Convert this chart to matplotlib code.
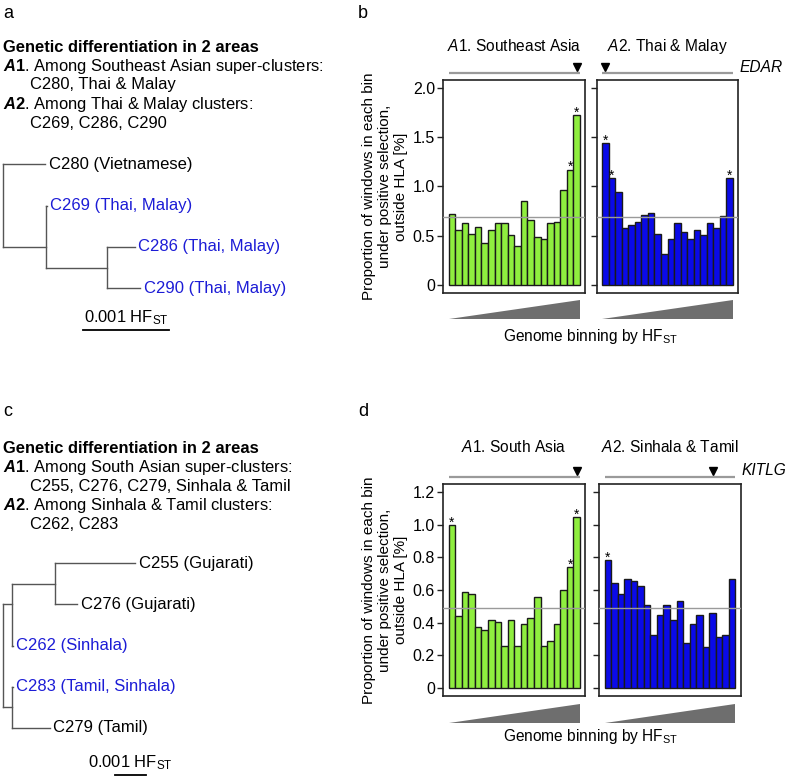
import numpy as np
import matplotlib
matplotlib.use("Agg")
import matplotlib.pyplot as plt
import matplotlib.transforms as mtransforms
from matplotlib.patches import Polygon

plt.rcParams['font.family'] = ['Liberation Sans', 'DejaVu Sans']
plt.rcParams['mathtext.fontset'] = 'custom'
plt.rcParams['mathtext.rm'] = 'Liberation Sans'
plt.rcParams['mathtext.it'] = 'Liberation Sans:italic'
plt.rcParams['mathtext.bf'] = 'Liberation Sans:bold'
plt.rcParams['mathtext.bfit'] = 'Liberation Sans:bold:italic'

# ---- data ----
# panel b: proportion of windows under positive selection per HF_ST bin
se_asia = [0.72, 0.56, 0.63, 0.52, 0.59, 0.42, 0.56, 0.63, 0.63, 0.505,
           0.39, 0.85, 0.66, 0.49, 0.47, 0.63, 0.64, 0.96, 1.17, 1.72]
thai_malay = [1.44, 1.08, 0.94, 0.58, 0.61, 0.64, 0.71, 0.73, 0.52, 0.315,
              0.47, 0.63, 0.54, 0.47, 0.56, 0.505, 0.63, 0.58, 0.70, 1.08]
se_asia_stars = [18, 19]
thai_malay_stars = [0, 1, 19]
base_b = 0.69
edar_bins = [19, 0]

# panel d
south_asia = [0.996, 0.444, 0.589, 0.575, 0.376, 0.354, 0.419, 0.407, 0.26, 0.419,
              0.26, 0.39, 0.43, 0.56, 0.26, 0.286, 0.39, 0.603, 0.744, 1.047]
sinhala_tamil = [0.785, 0.642, 0.575, 0.667, 0.654, 0.628, 0.509, 0.325, 0.446, 0.509,
                 0.419, 0.536, 0.274, 0.39, 0.446, 0.249, 0.458, 0.313, 0.325, 0.667]
south_asia_stars = [0, 18, 19]
sinhala_tamil_stars = [0]
base_d = 0.489
kitlg_bins = [19, 16]

# trees (node, parent, branch length in HF_ST)
tree_a_nodes = ["r", "C280 (Vietnamese)", "n1", "C269 (Thai, Malay)", "n2",
                "C286 (Thai, Malay)", "C290 (Thai, Malay)"]
tree_a_parent = [None, "r", "r", "n1", "n1", "n2", "n2"]
tree_a_len = [0, 0.00049, 0.000496, 0.00001, 0.00071, 0.00032, 0.00038]
tree_a_blue = ["C269 (Thai, Malay)", "C286 (Thai, Malay)", "C290 (Thai, Malay)"]

tree_c_nodes = ["r", "nA", "nG", "C255 (Gujarati)", "C276 (Gujarati)", "C262 (Sinhala)",
                "nB", "C283 (Tamil, Sinhala)", "C279 (Tamil)"]
tree_c_parent = [None, "r", "nA", "nG", "nG", "nA", "r", "nB", "nB"]
tree_c_len = [0, 0.00029, 0.00141, 0.00262, 0.00073, 0.00004, 0.00029, 0.00004, 0.00125]
tree_c_blue = ["C262 (Sinhala)", "C283 (Tamil, Sinhala)"]

GREEN = '#8FEE3F'
BLUE = '#0A0AE8'
TXTBLUE = '#1c1cd6'
FS = 11.9

W, H = 787, 781
fig = plt.figure(figsize=(W / 100, H / 100), dpi=100)


def box(x0, y0, x1, y1):
    return [x0 / W, 1 - y1 / H, (x1 - x0) / W, (y1 - y0) / H]


def ftext(x, y, s, **kw):
    fig.text(x / W, 1 - y / H, s, **kw)


def bar_panel(ax, vals, color, stars, mark, base, ylim, ticks, labels, show_labels):
    n = len(vals)
    xs = np.arange(n) + 0.5
    ax.bar(xs, vals, width=1, color=color, edgecolor='#1a1a1a', linewidth=1, zorder=2)
    ax.axhline(base, color='#9a9a9a', lw=1, zorder=3)
    ax.set_xlim(-0.8, n + 0.8)
    ax.set_ylim(*ylim)
    ax.set_xticks([])
    ax.set_yticks(ticks)
    ax.set_yticklabels(labels if show_labels else [])
    ax.tick_params(axis='y', direction='out', length=4.5, width=1, pad=1.5,
                   labelsize=11.5, color='#222222')
    for sp in ax.spines.values():
        sp.set_linewidth(1.2)
        sp.set_color('#222222')
    for i in stars:
        ax.annotate('*', (xs[i], vals[i]), xytext=(0, -1.2), textcoords='offset points',
                    ha='center', va='baseline', fontsize=10)
    hpx = ax.get_position().height * H
    blend = mtransforms.blended_transform_factory(ax.transData, ax.transAxes)
    ax.plot([0, n], [1 + 7.5 / hpx] * 2, transform=blend, color='#9a9a9a', lw=1.6,
            clip_on=False, solid_capstyle='butt')
    ax.plot([xs[mark]], [1 + 13.0 / hpx], transform=blend, marker='v', color='black',
            markersize=6.2, clip_on=False, linestyle='none')
    wedge = Polygon([(0, -26.5 / hpx), (n, -26.5 / hpx), (n, -7.7 / hpx)], closed=True,
                    transform=blend, facecolor='#6e6e6e', edgecolor='none', clip_on=False)
    ax.add_patch(wedge)


def draw_tree(ax, nodes, parents, lens, blue):
    x = {}
    for nd, p, l in zip(nodes, parents, lens):
        x[nd] = (x[p] if p else 0.0) + l
    children = {nd: [c for c, p in zip(nodes, parents) if p == nd] for nd in nodes}
    tips = [nd for nd in nodes if not children[nd]]
    y = {t: i for i, t in enumerate(tips)}

    def tip_list(nd):
        if not children[nd]:
            return [nd]
        out = []
        for c in children[nd]:
            out += tip_list(c)
        return out

    for nd in nodes:
        if nd not in y:
            y[nd] = np.mean([y[t] for t in tip_list(nd)])
    for nd, p in zip(nodes, parents):
        if p is not None:
            ax.plot([x[p], x[nd]], [y[nd], y[nd]], color='#555555', lw=1)
    for nd in nodes:
        if children[nd]:
            cy = [y[c] for c in children[nd]]
            ax.plot([x[nd], x[nd]], [min(cy), max(cy)], color='#555555', lw=1)
    for t in tips:
        ax.annotate(t, (x[t], y[t]), xytext=(2.5, 0), textcoords='offset points',
                    va='center', ha='left', fontsize=12,
                    color=TXTBLUE if t in blue else 'black')
    ax.axis('off')


# ---- panel a ----
ftext(3, 14, 'a', fontsize=13, va='center')
ftext(3, 47, 'Genetic differentiation in 2 areas', fontsize=FS, weight='bold', va='center')
ftext(3, 66, r'$\mathbfit{A}\mathbf{1}$. Among Southeast Asian super-clusters:', fontsize=FS, va='center')
ftext(30.5, 85, 'C280, Thai & Malay', fontsize=FS, va='center')
ftext(3, 104, r'$\mathbfit{A}\mathbf{2}$. Among Thai & Malay clusters:', fontsize=FS, va='center')
ftext(30.5, 123, 'C269, C286, C290', fontsize=FS, va='center')

sc_a = 86.7 / 0.001  # px per HF_ST
axa = fig.add_axes(box(0, 140, 300, 345))
draw_tree(axa, tree_a_nodes, tree_a_parent, tree_a_len, tree_a_blue)
axa.set_xlim(-2.7 / sc_a, (300 - 2.7) / sc_a)
axa.set_ylim((345 - 164.3) / 41.3, (140 - 164.3) / 41.3)
bar0 = (82.7 - 2.7) / sc_a
axa.plot([bar0, bar0 + 0.001], [4.01, 4.01], color='black', lw=1.3)
axa.text(bar0 + 0.0005, 3.72, r'0.001 HF$_{\mathrm{ST}}$', ha='center', va='center', fontsize=FS)

# ---- panel c ----
ftext(3, 412, 'c', fontsize=13, va='center')
ftext(3, 448.5, 'Genetic differentiation in 2 areas', fontsize=FS, weight='bold', va='center')
ftext(3, 467.5, r'$\mathbfit{A}\mathbf{1}$. Among South Asian super-clusters:', fontsize=FS, va='center')
ftext(30.5, 486.5, 'C255, C276, C279, Sinhala & Tamil', fontsize=FS, va='center')
ftext(3, 505.5, r'$\mathbfit{A}\mathbf{2}$. Among Sinhala & Tamil clusters:', fontsize=FS, va='center')
ftext(30.5, 524.5, 'C262, C283', fontsize=FS, va='center')

sc_c = 30.7 / 0.001
axc = fig.add_axes(box(0, 545, 300, 781))
draw_tree(axc, tree_c_nodes, tree_c_parent, tree_c_len, tree_c_blue)
axc.set_xlim(-2.7 / sc_c, (300 - 2.7) / sc_c)
axc.set_ylim((781 - 563.3) / 41.1, (545 - 563.3) / 41.1)
bar0 = (115 - 2.7) / sc_c
axc.plot([bar0, bar0 + 0.001], [5.15, 5.15], color='black', lw=1.3)
axc.text(bar0 + 0.0005, 4.86, r'0.001 HF$_{\mathrm{ST}}$', ha='center', va='center', fontsize=FS)

# ---- panel b ----
ylab = 'Proportion of windows in each bin\nunder positive selection,\noutside HLA [%]'
ftext(358, 14, 'b', fontsize=13, va='center')
b1 = fig.add_axes(box(443.3, 80, 585.3, 292.7))
b2 = fig.add_axes(box(596.7, 80, 738.3, 292.7))
tb = [0, 0.5, 1.0, 1.5, 2.0]
tlb = ['0', '0.5', '1.0', '1.5', '2.0']
bar_panel(b1, se_asia, GREEN, se_asia_stars, edar_bins[0], base_b, (-0.08, 2.08), tb, tlb, True)
bar_panel(b2, thai_malay, BLUE, thai_malay_stars, edar_bins[1], base_b, (-0.08, 2.08), tb, tlb, False)
ftext(514, 46, r'$\mathit{A}$1. Southeast Asia', fontsize=11.2, ha='center', va='center')
ftext(667.5, 46, r'$\mathit{A}$2. Thai & Malay', fontsize=11.2, ha='center', va='center')
ftext(740, 67.5, 'EDAR', fontsize=11.2, style='italic', ha='left', va='center')
ftext(385, 186.5, ylab, fontsize=11, rotation=90, ha='center', va='center', multialignment='center')
ftext(591, 337, r'Genome binning by HF$_{\mathrm{ST}}$', fontsize=11.2, ha='center', va='center')

# ---- panel d ----
ftext(358, 412, 'd', fontsize=13, va='center')
d1 = fig.add_axes(box(443.3, 484.3, 585.3, 696))
d2 = fig.add_axes(box(599.3, 484.3, 740.7, 696))
td = [0, 0.2, 0.4, 0.6, 0.8, 1.0, 1.2]
tld = ['0', '0.2', '0.4', '0.6', '0.8', '1.0', '1.2']
bar_panel(d1, south_asia, GREEN, south_asia_stars, kitlg_bins[0], base_d, (-0.048, 1.248), td, tld, True)
bar_panel(d2, sinhala_tamil, BLUE, sinhala_tamil_stars, kitlg_bins[1], base_d, (-0.048, 1.248), td, tld, False)
ftext(514, 447.5, r'$\mathit{A}$1. South Asia', fontsize=11.2, ha='center', va='center')
ftext(670, 447.5, r'$\mathit{A}$2. Sinhala & Tamil', fontsize=11.2, ha='center', va='center')
ftext(741.5, 470.5, 'KITLG', fontsize=11.2, style='italic', ha='left', va='center')
ftext(385, 590, ylab, fontsize=11, rotation=90, ha='center', va='center', multialignment='center')
ftext(591, 737, r'Genome binning by HF$_{\mathrm{ST}}$', fontsize=11.2, ha='center', va='center')

fig.savefig('out.png', dpi=100)
